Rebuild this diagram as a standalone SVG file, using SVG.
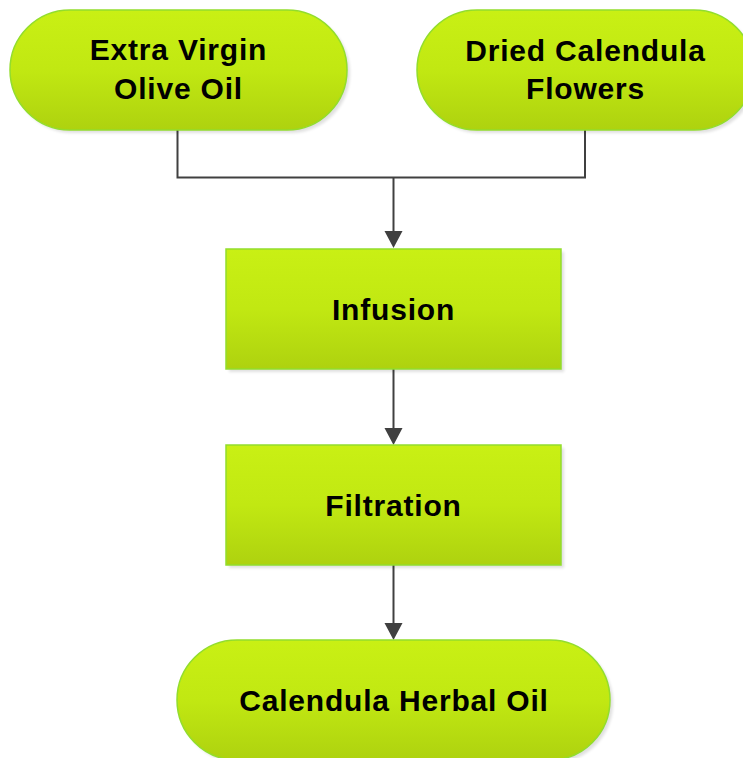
<svg xmlns="http://www.w3.org/2000/svg" width="743" height="758" viewBox="0 0 743 758">
<style>
.box{fill:url(#g);stroke:#92dd2c;stroke-width:1.5}
.sh{fill:#000;opacity:0.12}
.t{font-family:"Liberation Sans",Arial,sans-serif;font-weight:bold;font-size:30px;letter-spacing:0.8px;fill:#000;text-anchor:middle}
.c{fill:none;stroke:#404040;stroke-width:2}
</style>
<defs>
<linearGradient id="g" x1="0" y1="0" x2="0" y2="1">
<stop offset="0" stop-color="#c9f014"/>
<stop offset="0.5" stop-color="#c1e812"/>
<stop offset="1" stop-color="#aed20f"/>
</linearGradient>
<filter id="b" x="-10%" y="-10%" width="120%" height="130%"><feGaussianBlur stdDeviation="1.5"/></filter>
<marker id="a" markerWidth="18" markerHeight="17" refX="9" refY="17" orient="auto-start-reverse" markerUnits="userSpaceOnUse" viewBox="0 0 18 17">
<path d="M0,0 L18,0 L9,17 Z" fill="#404040" transform="rotate(0)"/>
</marker>
</defs>
<g id="connectors">
<path class="c" d="M177.5,130 V177.5 H585 V130"/>
<path class="c" d="M393.5,177.5 V231"/>
<path d="M384.5,231 L402.5,231 L393.5,248 Z" fill="#404040"/>
<path class="c" d="M393.5,369 V428"/>
<path d="M384.5,428 L402.5,428 L393.5,445 Z" fill="#404040"/>
<path class="c" d="M393.5,565 V623"/>
<path d="M384.5,623 L402.5,623 L393.5,640 Z" fill="#404040"/>
</g>
<g id="node-olive">
<rect class="sh" x="13" y="13" width="337" height="120" rx="60" filter="url(#b)"/>
<rect class="box" x="10" y="10" width="337" height="120" rx="60"/>
<text class="t" x="178.5" y="60">Extra Virgin</text>
<text class="t" x="178.5" y="99">Olive Oil</text>
</g>
<g id="node-calendula">
<rect class="sh" x="420" y="13" width="337" height="120" rx="60" filter="url(#b)"/>
<rect class="box" x="417" y="10" width="337" height="120" rx="60"/>
<text class="t" x="585.5" y="61">Dried Calendula</text>
<text class="t" x="585.5" y="99">Flowers</text>
</g>
<g id="node-infusion">
<rect class="sh" x="229" y="252" width="335" height="120" filter="url(#b)"/>
<rect class="box" x="226" y="249" width="335" height="120"/>
<text class="t" x="393.5" y="320">Infusion</text>
</g>
<g id="node-filtration">
<rect class="sh" x="229" y="448" width="335" height="120" filter="url(#b)"/>
<rect class="box" x="226" y="445" width="335" height="120"/>
<text class="t" x="393.5" y="516">Filtration</text>
</g>
<g id="node-oil">
<rect class="sh" x="180" y="643" width="433" height="120" rx="60" filter="url(#b)"/>
<rect class="box" x="177" y="640" width="433" height="120" rx="60"/>
<text class="t" x="394" y="711">Calendula Herbal Oil</text>
</g>
</svg>
